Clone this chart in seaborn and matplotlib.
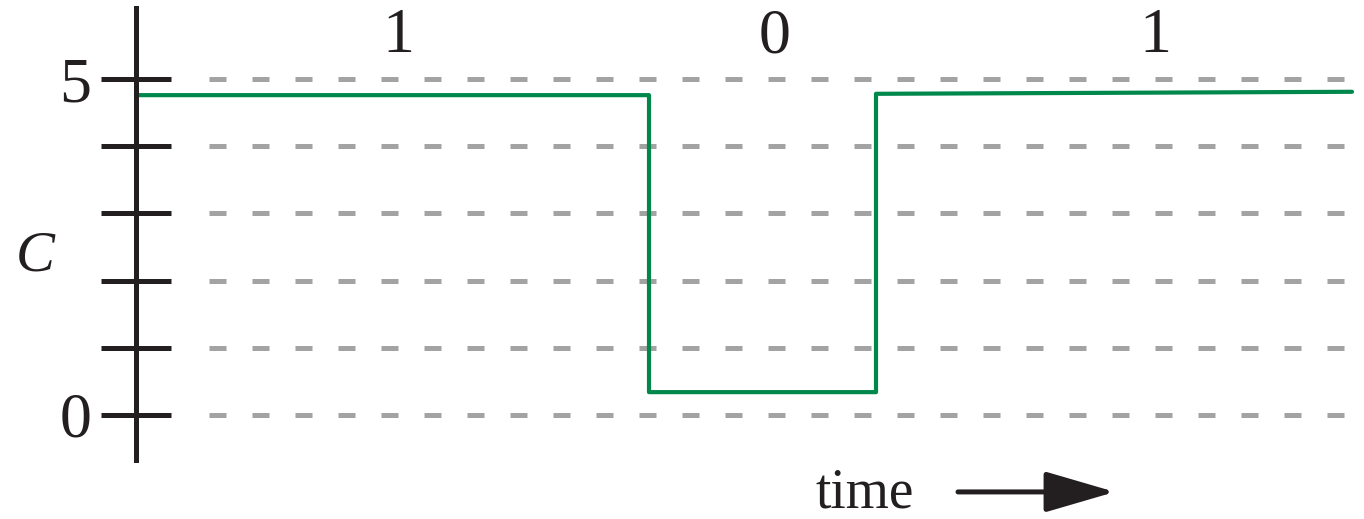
import numpy as np
import pandas as pd
import seaborn as sns
import matplotlib.pyplot as plt

# signal (time in arbitrary units, C level)
time = [0.0, 5.12, 5.12, 7.39, 7.39, 12.15]
level = [4.76, 4.76, 0.34, 0.34, 4.78, 4.81]

bits = ['1', '0', '1']
bit_pos = [2.61, 6.38, 10.18]

y_ticks = [0, 1, 2, 3, 4, 5]
y_labels = ['0', '', '', '', '', '5']

sns.set_theme(style='white')
plt.rcParams['font.family'] = ['Liberation Serif', 'DejaVu Serif']

fig = plt.figure(figsize=(13.64, 5.19), dpi=100)
ax = fig.add_axes([0, 0, 1, 1])

df = pd.DataFrame({'time': time, 'C': level})

# dashed guide lines
ax.hlines(y_ticks, 0.72, 12.16, colors='#a3a3a3', linewidth=3.6,
          linestyles=(0, (3.4, 5.2)), zorder=1)

sns.lineplot(data=df, x='time', y='C', estimator=None, sort=False,
             color='#00874c', linewidth=3.0, ax=ax, zorder=3)

ax.set_xlim(-1.37, 12.27)
ax.set_ylim(-1.548, 6.176)

# vertical axis as a spine through t = 0
for s in ['top', 'right', 'bottom']:
    ax.spines[s].set_visible(False)
ax.spines['left'].set_position(('data', -0.01))
ax.spines['left'].set_bounds(-0.67, 6.06)
ax.spines['left'].set_linewidth(3.6)
ax.spines['left'].set_color('#231f20')
ax.spines['left'].set_zorder(4)

ax.set_yticks(y_ticks)
ax.set_yticklabels(y_labels, fontsize=46)
ax.tick_params(axis='y', direction='inout', length=50, width=3.6,
               color='#231f20', pad=7, labelcolor='#231f20', left=True)
ax.set_xticks([])
ax.set_xlabel('')
ax.set_ylabel('')

for b, xp in zip(bits, bit_pos):
    ax.text(xp, 5.62, b, ha='center', va='center', fontsize=46, color='#231f20')

ax.text(-1.02, 2.36, 'C', ha='center', va='center', fontsize=42,
        style='italic', color='#231f20')

ax.text(7.28, -1.17, 'time', ha='center', va='center', fontsize=40,
        color='#231f20')
ax.annotate('', xy=(9.78, -1.145), xytext=(8.21, -1.145),
            arrowprops=dict(arrowstyle='-|>,head_length=3.6,head_width=1.05',
                            color='#231f20', lw=3.6, shrinkA=0, shrinkB=0))

fig.savefig('out.png', dpi=100)
